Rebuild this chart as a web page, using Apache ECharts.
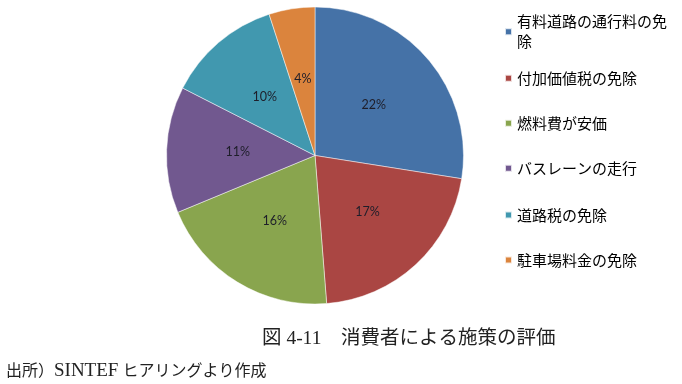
<!DOCTYPE html>
<html>
<head>
<meta charset="utf-8">
<script src="https://cdn.jsdelivr.net/npm/echarts@6/dist/echarts.min.js"></script>
<style>
html,body{margin:0;padding:0;background:#fff;}
#c{width:682px;height:384px;}
</style>
</head>
<body>
<div id="c"></div>
<script>
const categories = ['有料道路の通行料の免除', '付加価値税の免除', '燃料費が安価', 'バスレーンの走行', '道路税の免除', '駐車場料金の免除'];
const values = [22, 17, 16, 11, 10, 4];
const colors = ['#4572A7', '#AA4643', '#89A54E', '#71588F', '#4198AF', '#DB843D'];
const legendCenters = [31.7, 78.3, 123.3, 168.3, 215, 260];
const titleText = '図 4-11　消費者による施策の評価';
const sourceParts = ['出所）', 'SINTEF', ' ヒアリングより作成'];

const chart = echarts.init(document.getElementById('c'), null, {renderer: 'canvas'});

const legends = categories.map((name, i) => {
  const first = i === 0;
  const ts = {
    fontFamily: 'Noto Sans CJK JP',
    fontSize: 15,
    color: '#000',
    lineHeight: 20
  };
  if (first) {
    ts.width = 158;
    ts.overflow = 'break';
    ts.padding = [20, 0, 0, 0];
  }
  return {
    data: [name],
    orient: 'vertical',
    left: 504,
    top: first ? legendCenters[i] - 30 : legendCenters[i] - 10,
    padding: 0,
    icon: 'rect',
    itemWidth: 7,
    itemHeight: 7,
    selectedMode: false,
    textStyle: ts
  };
});

chart.setOption({
  animation: false,
  color: colors,
  legend: legends,
  graphic: [
    {
      type: 'text', left: 262, top: 329,
      style: {text: titleText, fontFamily: '"Liberation Serif", "Noto Sans CJK JP"', fontSize: 19.5, fill: '#222'}
    },
    {
      type: 'text', left: 6, top: 362,
      style: {
        text: '{a|' + sourceParts[0] + '}{b|' + sourceParts[1] + '}{a|' + sourceParts[2] + '}',
        rich: {
          a: {fontFamily: '"Liberation Serif", "Noto Sans CJK JP"', fontSize: 16, fill: '#222', lineHeight: 20},
          b: {fontFamily: '"Liberation Serif"', fontSize: 19, fill: '#222', lineHeight: 20}
        }
      }
    }
  ],
  series: [{
    type: 'pie',
    center: [315, 155.5],
    radius: 148.5,
    startAngle: 90,
    clockwise: true,
    avoidLabelOverlap: false,
    itemStyle: {borderColor: 'rgba(255,255,255,0.8)', borderWidth: 0.6},
    label: {
      show: true,
      position: 'inside',
      formatter: p => p.value + '%',
      fontFamily: 'Lato',
      fontSize: 12.5,
      color: '#1e1e2a'
    },
    labelLine: {show: false},
    emphasis: {disabled: true},
    data: categories.map((n, i) => ({name: n, value: values[i]}))
  }]
});
</script>
</body>
</html>
